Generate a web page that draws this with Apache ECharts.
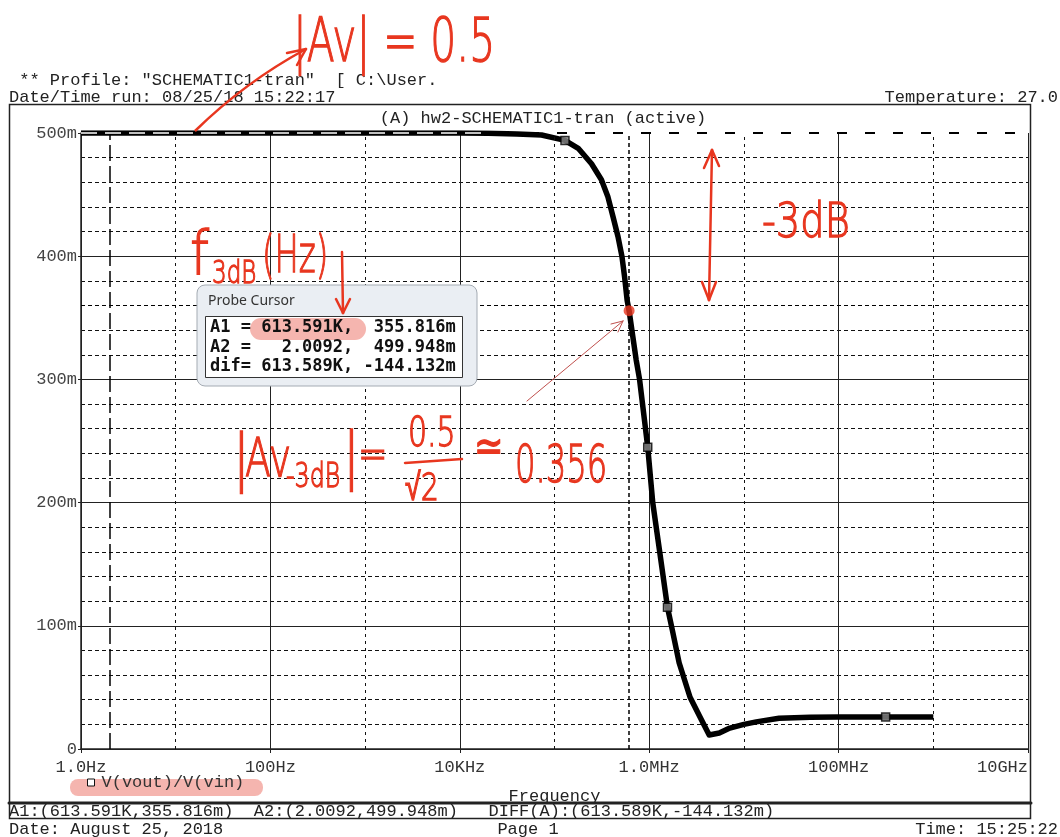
<!DOCTYPE html>
<html><head><meta charset="utf-8">
<script src="https://cdn.jsdelivr.net/npm/echarts@6/dist/echarts.min.js"></script>
<style>html,body{margin:0;padding:0;background:#fff}#c{width:1060px;height:837px}</style>
</head><body><div id="c"></div>
<script>
// ---- data ----
const freqHz = [1, 10, 100, 1e3, 1e4, 2e4, 4e4, 7.3e4, 1.29e5, 1.78e5, 2.46e5, 3.13e5, 3.67e5, 4.15e5, 4.68e5, 5.15e5, 5.5e5, 5.85e5, 6.136e5, 6.71e5, 7.28e5, 7.91e5, 9.65e5, 1.09e6, 1.28e6, 1.56e6, 1.75e6, 2.07e6, 2.7e6, 3.44e6, 4.3e6, 5.5e6, 7.1e6, 1.0e7, 1.35e7, 2.35e7, 5e7, 1e8, 3e8, 1e9];
const gain   = [0.5, 0.5, 0.5, 0.5, 0.4999, 0.4997, 0.4992, 0.4984, 0.494, 0.4876, 0.475, 0.462, 0.448, 0.432, 0.416, 0.400, 0.383, 0.364, 0.3558, 0.335, 0.316, 0.300, 0.245, 0.200, 0.162, 0.115, 0.097, 0.070, 0.042, 0.026, 0.0114, 0.013, 0.017, 0.020, 0.022, 0.025, 0.0258, 0.026, 0.026, 0.026];
const markerFreq = [1.29e5, 9.65e5, 1.56e6, 3.14e8];
const markerGain = [0.494, 0.245, 0.115, 0.026];
const xTickValues = [1, 1e2, 1e4, 1e6, 1e8, 1e10];
const xTickLabels = ['1.0Hz', '100Hz', '10KHz', '1.0MHz', '100MHz', '10GHz'];
const xMinorGrid = [10, 1e3, 1e5, 1e7, 1e9];
const yTickLabels = ['0', '100m', '200m', '300m', '400m', '500m'];
const cursorA1 = [613591, 0.355816];
const cursorA2 = [2.0092, 0.499948];
const seriesName = 'V(vout)/V(vin)';

const MONO = '"Liberation Mono", "DejaVu Sans Mono", monospace';
const INK = '#222';
const RED = '#e8361f';

function txt(text, x, y, font, opt) {
  opt = opt || {};
  const st = { text: text, font: font, fill: opt.fill || INK,
      textAlign: opt.align || 'left', align: opt.align || 'left',
      textVerticalAlign: 'middle', verticalAlign: 'middle' };
  if (opt.stroke) { st.stroke = opt.stroke; st.lineWidth = opt.strokeW || 1; }
  return { type: 'text', x: x, y: y, z: opt.z || 50, scaleX: opt.sx || 1, scaleY: opt.sy || 1, silent: true, style: st };
}
function ln(x1, y1, x2, y2, color, w, z) {
  return { type: 'line', z: z || 60, silent: true, shape: { x1: x1, y1: y1, x2: x2, y2: y2 },
    style: { stroke: color, lineWidth: w, lineCap: 'round' } };
}
function hand(text, x, y, size, sx, z) {
  return txt(text, x, y, '300 ' + size + 'px "DejaVu Sans", sans-serif', { fill: RED, stroke: RED, strokeW: 1.3, sx: sx, z: z || 70 });
}

const graphics = [
  // outer frame
  { type: 'rect', z: 40, silent: true, shape: { x: 9.5, y: 104.5, width: 1021, height: 714 }, style: { fill: null, stroke: INK, lineWidth: 1.5 } },
  ln(9, 803, 1031, 803, INK, 3, 40),
  // header / footer text
  txt(' ** Profile: "SCHEMATIC1-tran"  [ C:\\User.', 9, 80, '17px ' + MONO),
  txt('Date/Time run: 08/25/18 15:22:17', 9, 97, '17px ' + MONO),
  txt('Temperature: 27.0', 1058, 97, '17px ' + MONO, { align: 'right' }),
  txt('(A) hw2-SCHEMATIC1-tran (active)', 543, 118, '17px ' + MONO, { align: 'center' }),
  txt('A1:(613.591K,355.816m)  A2:(2.0092,499.948m)   DIFF(A):(613.589K,-144.132m)', 9, 811, '17px ' + MONO),
  txt('Date: August 25, 2018', 9, 829, '17px ' + MONO),
  txt('Page 1', 528, 829, '17px ' + MONO, { align: 'center' }),
  txt('Time: 15:25:22', 1058, 829, '17px ' + MONO, { align: 'right' }),
  // legend highlight
  { type: 'rect', z: 1, silent: true, shape: { x: 70, y: 779, width: 193, height: 17, r: 8 }, style: { fill: 'rgba(236,120,110,0.55)' } },
  // probe cursor window
  { type: 'rect', z: 100, silent: true, shape: { x: 197, y: 285, width: 280, height: 101, r: 8 }, style: { fill: '#eaeef3', stroke: '#a4abb3', lineWidth: 1 } },
  { type: 'rect', z: 101, silent: true, shape: { x: 205.5, y: 316.5, width: 257, height: 61 }, style: { fill: '#fff', stroke: '#333', lineWidth: 1 } },
  txt('Probe Cursor', 208, 301, '14px "Noto Sans", "Open Sans", sans-serif', { z: 103, fill: '#333' }),
  { type: 'rect', z: 102, silent: true, shape: { x: 250, y: 318, width: 116, height: 22, r: 11 }, style: { fill: 'rgba(236,120,110,0.55)' } },
  txt('A1 = 613.591K,  355.816m', 210, 328, 'bold 17px "DejaVu Sans Mono", monospace', { z: 103, fill: '#111' }),
  txt('A2 =   2.0092,  499.948m', 210, 348, 'bold 17px "DejaVu Sans Mono", monospace', { z: 103, fill: '#111' }),
  txt('dif= 613.589K, -144.132m', 210, 367, 'bold 17px "DejaVu Sans Mono", monospace', { z: 103, fill: '#111' }),
  // handwritten: |Av| = 0.5 with arrow
  hand('|Av| = 0.5', 293, 45, 60, 0.68),
  { type: 'bezierCurve', z: 70, silent: true, shape: { x1: 195, y1: 131, cpx1: 245, cpy1: 82, x2: 306, y2: 49 }, style: { stroke: RED, lineWidth: 2.5, fill: null } },
  ln(306, 49, 287, 53, RED, 2.5, 70), ln(306, 49, 297, 65, RED, 2.5, 70),
  // f3dB(Hz)
  hand('f', 190, 258, 60, 0.9, 110),
  hand('3dB', 212, 275, 32, 0.72, 110),
  hand('(Hz)', 262, 258, 52, 0.62, 110),
  ln(342, 252, 343, 313, RED, 2.5, 110), ln(343, 313, 336, 299, RED, 2.5, 110), ln(343, 313, 350, 299, RED, 2.5, 110),
  // -3dB with double arrow
  hand('-3dB', 762, 225, 48, 0.8),
  ln(712, 150, 709, 300, RED, 2.5), ln(712, 150, 704, 168, RED, 2.5), ln(712, 150, 719, 166, RED, 2.5),
  ln(709, 300, 702, 282, RED, 2.5), ln(709, 300, 716, 282, RED, 2.5),
  // thin pointer to cursor dot
  ln(527, 401, 623, 321, '#c0504d', 1, 60), ln(623, 321, 611, 324, '#c0504d', 1, 60), ln(623, 321, 618, 332, '#c0504d', 1, 60),
  // |Av-3dB| = 0.5/sqrt2 ~ 0.356
  hand('|', 233, 462, 62, 0.8),
  hand('Av', 245, 462, 54, 0.7),
  hand('-3dB', 286, 478, 34, 0.7),
  hand('|', 343, 460, 62, 0.8),
  hand('=', 358, 458, 44, 0.8),
  hand('0.5', 408, 436, 40, 0.75),
  ln(405, 463, 462, 459, RED, 2.5),
  hand('√2', 405, 490, 38, 0.75),
  hand('≃', 474, 450, 44, 0.8),
  hand('0.356', 515, 468, 52, 0.62)
];

function xLabel(v) {
  const i = xTickValues.findIndex(t => Math.abs(Math.log10(t) - Math.log10(v)) < 1e-6);
  return i >= 0 ? xTickLabels[i] : '';
}
function yLabel(v) {
  const i = Math.round(v / 0.1);
  return yTickLabels[i] || '';
}
const noLbl = { show: false };

const option = {
  animation: false,
  backgroundColor: '#fff',
  grid: { left: 81, right: 32, top: 133, bottom: 88, containLabel: false },
  legend: {
    data: [seriesName], left: 82, top: 769, icon: 'rect', itemWidth: 7, itemHeight: 7, itemGap: 10, z: 5,
    itemStyle: { color: '#fff', borderColor: '#111', borderWidth: 1 },
    textStyle: { fontFamily: MONO, fontSize: 17, color: '#333', padding: [0, 0, 0, 2] }
  },
  xAxis: {
    type: 'log', logBase: 10, min: 1, max: 1e10, interval: 2,
    name: 'Frequency', nameLocation: 'middle', nameGap: 39,
    nameTextStyle: { fontFamily: MONO, fontSize: 17, color: INK },
    axisLine: { show: true, lineStyle: { color: INK, width: 1.5 } },
    axisTick: { show: true, length: 4, lineStyle: { color: INK } },
    axisLabel: { formatter: xLabel, fontFamily: MONO, fontSize: 17, color: '#333', margin: 10, alignMaxLabel: 'right' },
    splitLine: { show: true, lineStyle: { color: INK, width: 1 } }
  },
  yAxis: {
    type: 'value', min: 0, max: 0.5, interval: 0.1,
    axisLine: { show: true, lineStyle: { color: INK, width: 1.5 } },
    axisTick: { show: true, length: 3, lineStyle: { color: INK } },
    axisLabel: { formatter: yLabel, fontFamily: MONO, fontSize: 17, color: '#444', margin: 4 },
    splitLine: { show: true, showMaxLine: false, lineStyle: { color: INK, width: 1 } },
    minorTick: { show: false, splitNumber: 5 },
    minorSplitLine: { show: true, lineStyle: { color: '#111', width: 1, type: [4, 3] } }
  },
  graphic: graphics,
  series: [
    { // grid helpers and cursor lines (below curve)
      type: 'line', data: [], z: 1, silent: true,
      markLine: {
        silent: true, symbol: 'none', label: noLbl, animation: false,
        data: [
          ...xMinorGrid.map(v => ({ xAxis: v, lineStyle: { color: '#111', width: 1, type: [3, 4] } })),
          { xAxis: cursorA2[0], lineStyle: { color: '#000', width: 1.5, type: [16, 5] } },
          { xAxis: cursorA1[0], lineStyle: { color: '#000', width: 1.5, type: [4, 3] } },
          { yAxis: cursorA1[1], lineStyle: { color: '#000', width: 1, type: [4, 3] } },
          { yAxis: cursorA2[1], lineStyle: { color: '#000', width: 2, type: [10, 18] } }
        ]
      }
    },
    {
      name: seriesName, type: 'line', z: 3,
      data: freqHz.map((f, i) => [f, gain[i]]),
      showSymbol: false, symbol: 'none',
      lineStyle: { color: '#000', width: 5.5, join: 'round' },
      itemStyle: { color: '#000' }
    },
    { // A2 cursor drawn over the flat part of the trace
      type: 'line', data: [], z: 4, silent: true,
      markLine: {
        silent: true, symbol: 'none', label: noLbl, animation: false,
        data: [[{ coord: [freqHz[0], cursorA2[1]] }, { coord: [freqHz[5], cursorA2[1]] }]],
        lineStyle: { color: '#fff', width: 1.5, type: [16, 8] }
      }
    },
    {
      type: 'scatter', z: 5, silent: true, symbol: 'rect', symbolSize: 8,
      data: markerFreq.map((f, i) => [f, markerGain[i]]),
      itemStyle: { color: '#888', borderColor: '#000', borderWidth: 1.5 }
    },
    {
      type: 'scatter', z: 6, silent: true, symbolSize: 11,
      data: [cursorA1],
      itemStyle: { color: RED }
    }
  ]
};
echarts.init(document.getElementById('c'), null, { renderer: 'canvas' }).setOption(option);
</script></body></html>
